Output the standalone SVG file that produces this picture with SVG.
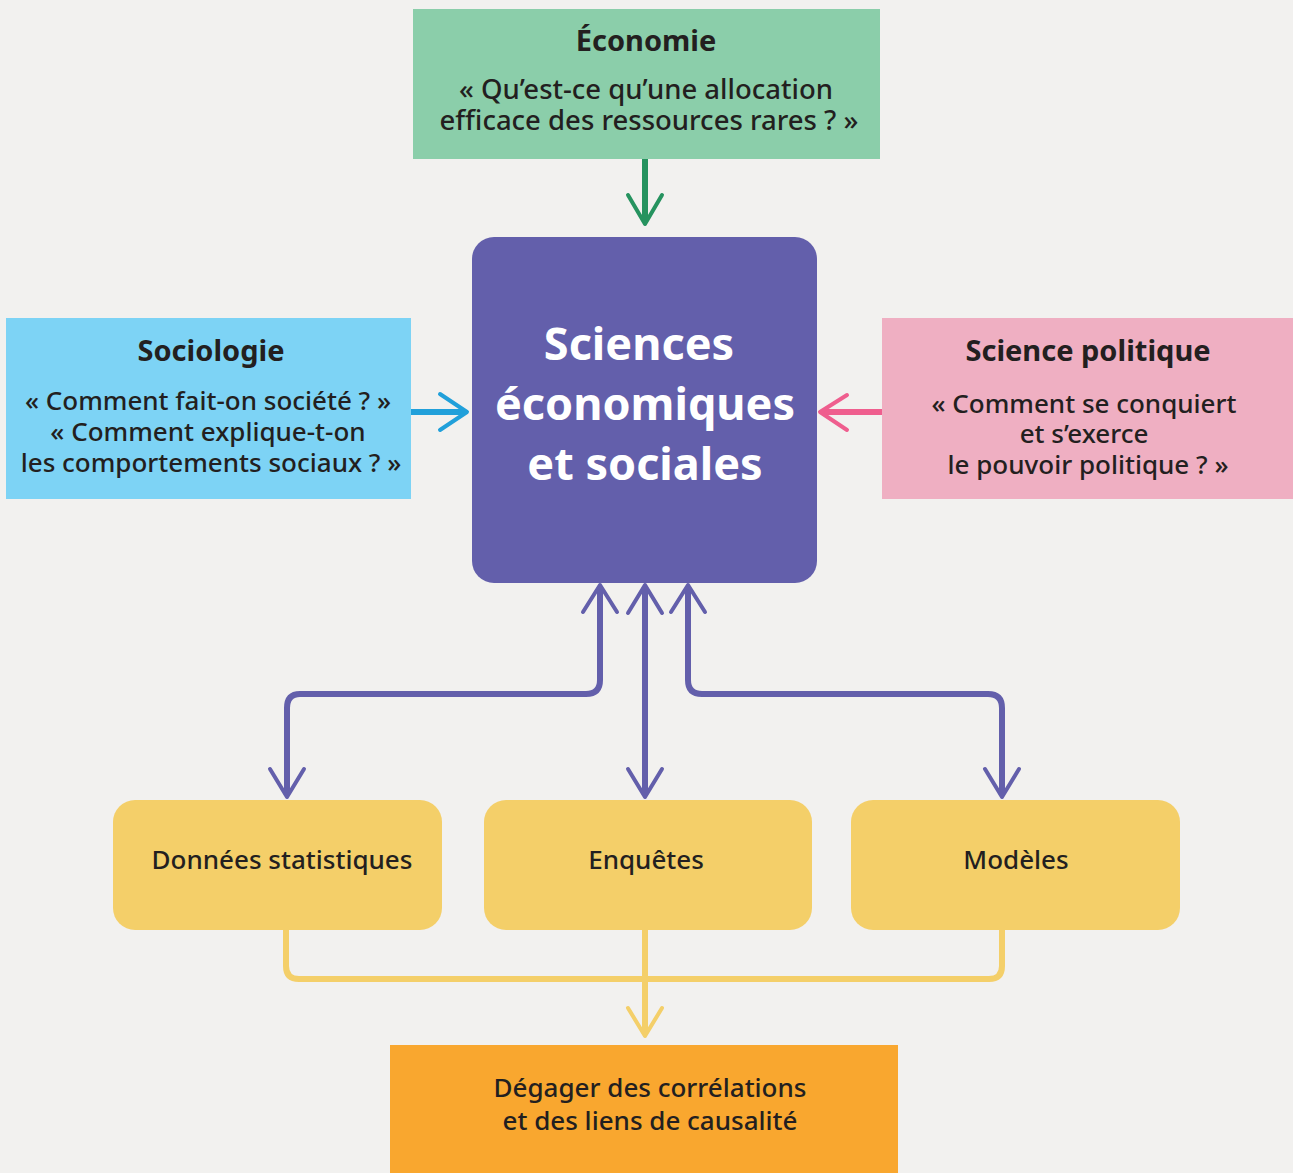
<svg xmlns="http://www.w3.org/2000/svg" width="1293" height="1173" viewBox="0 0 1293 1173">
<style>
.t{font-family:"Noto Sans",Lato,sans-serif;fill:#231f20;text-anchor:middle}
.h{font-size:29px;font-weight:700}
.b{font-size:26px;font-weight:500}
.e{font-size:27.5px}
.c{font-family:"Noto Sans",Lato,sans-serif;fill:#ffffff;text-anchor:middle;font-size:45px;font-weight:700}
.p{fill:none;stroke:#635fab;stroke-width:6;stroke-linejoin:round}
.ph{fill:none;stroke:#635fab;stroke-width:4;stroke-linecap:round;stroke-linejoin:round}
.y{fill:none;stroke:#f4cf69;stroke-width:6;stroke-linejoin:round}
.yh{fill:none;stroke:#f4cf69;stroke-width:4;stroke-linecap:round;stroke-linejoin:round}
</style>
<rect width="1293" height="1173" fill="#f2f1ef"/>
<g id="connectors">
<path d="M645 159V222" fill="none" stroke="#26935f" stroke-width="6"/>
<path d="M628 195L645 224L662 195" fill="none" stroke="#26935f" stroke-width="4" stroke-linecap="round" stroke-linejoin="round"/>
<path d="M411 412H465" fill="none" stroke="#21a0da" stroke-width="6"/>
<path d="M440 394L467 412L440 430" fill="none" stroke="#21a0da" stroke-width="4" stroke-linecap="round" stroke-linejoin="round"/>
<path d="M882 412H822" fill="none" stroke="#ef5e8e" stroke-width="6"/>
<path d="M847 395L820 412L847 430" fill="none" stroke="#ef5e8e" stroke-width="4" stroke-linecap="round" stroke-linejoin="round"/>
<path class="p" d="M600 586V680Q600 694 586 694H300Q287 694 287 708V795"/>
<path class="ph" d="M583 612L600 585L617 612"/>
<path class="ph" d="M270 769L287 797L304 769"/>
<path class="p" d="M645 586V795"/>
<path class="ph" d="M628 613L645 585L662 613"/>
<path class="ph" d="M628 769L645 797L662 769"/>
<path class="p" d="M688 586V680Q688 694 702 694H988Q1002 694 1002 708V795"/>
<path class="ph" d="M671 612L688 585L705 612"/>
<path class="ph" d="M985 769L1002 797L1019 769"/>
<path class="y" d="M286 930V966Q286 979 299 979H989Q1002 979 1002 966V930"/>
<path class="y" d="M645 930V1034"/>
<path class="yh" d="M628 1008L645 1036L662 1008"/>
</g>
<g id="economie">
<rect x="413" y="9" width="467" height="150" fill="#8bceaa"/>
<text class="t h" x="646" y="51">Économie</text>
<text class="t b e" x="646" y="99">« Qu’est-ce qu’une allocation</text>
<text class="t b e" x="649" y="130">efficace des ressources rares ? »</text>
</g>
<g id="sociologie">
<rect x="6" y="318" width="405" height="181" fill="#7dd3f5"/>
<text class="t h" x="211" y="361">Sociologie</text>
<text class="t b" x="208" y="410">« Comment fait-on société ? »</text>
<text class="t b" x="208" y="441">« Comment explique-t-on</text>
<text class="t b" x="211" y="472">les comportements sociaux ? »</text>
</g>
<g id="science-politique">
<rect x="882" y="318" width="411" height="181" fill="#efafc2"/>
<text class="t h" x="1088" y="361">Science politique</text>
<text class="t b" x="1084" y="413">« Comment se conquiert</text>
<text class="t b" x="1084" y="443">et s’exerce</text>
<text class="t b" x="1088" y="474">le pouvoir politique ? »</text>
</g>
<g id="ses">
<rect x="472" y="237" width="345" height="346" rx="22" fill="#635fab"/>
<text class="c" x="639" y="360">Sciences</text>
<text class="c" x="645" y="420">économiques</text>
<text class="c" x="645" y="480">et sociales</text>
</g>
<g id="donnees">
<rect x="113" y="800" width="329" height="130" rx="22" fill="#f4cf69"/>
<text class="t b" x="282" y="869">Données statistiques</text>
</g>
<g id="enquetes">
<rect x="484" y="800" width="328" height="130" rx="22" fill="#f4cf69"/>
<text class="t b" x="646" y="869">Enquêtes</text>
</g>
<g id="modeles">
<rect x="851" y="800" width="329" height="130" rx="22" fill="#f4cf69"/>
<text class="t b" x="1016" y="869">Modèles</text>
</g>
<g id="degager">
<rect x="390" y="1045" width="508" height="128" fill="#f9a72f"/>
<text class="t b" x="650" y="1097">Dégager des corrélations</text>
<text class="t b" x="650" y="1130">et des liens de causalité</text>
</g>
</svg>
